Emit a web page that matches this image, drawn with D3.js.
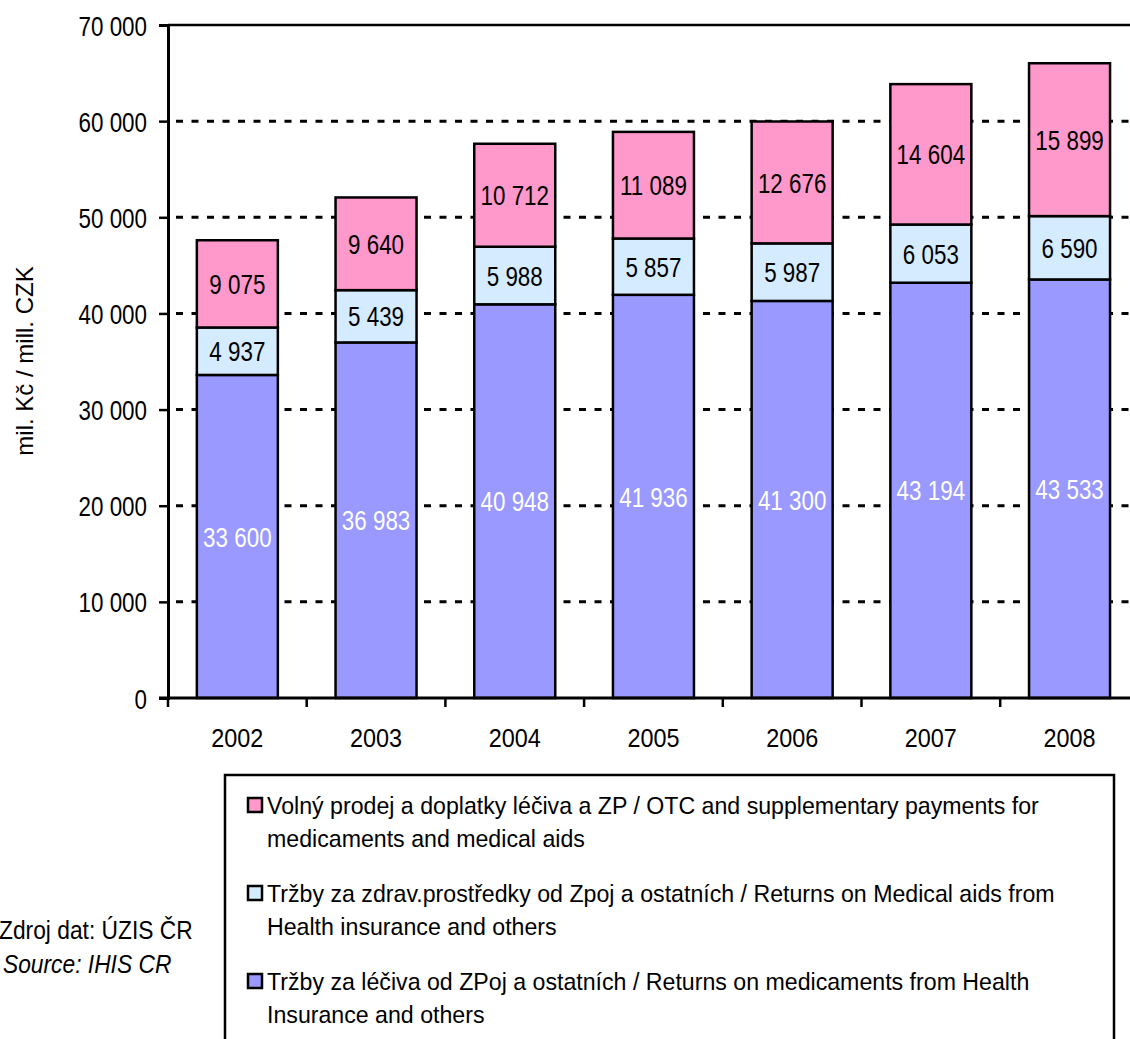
<!DOCTYPE html>
<html>
<head>
<meta charset="utf-8">
<script src="https://cdn.jsdelivr.net/npm/d3@7"></script>
<style>
  body { margin: 0; background: #fff; }
  text { font-family: "Liberation Sans", Arial, sans-serif; }
</style>
</head>
<body>
<div id="chart"></div>
<script>
// data
var years = ["2002", "2003", "2004", "2005", "2006", "2007", "2008"];
var medicaments = [33600, 36983, 40948, 41936, 41300, 43194, 43533];
var medicalAids = [4937, 5439, 5988, 5857, 5987, 6053, 6590];
var otcPayments = [9075, 9640, 10712, 11089, 12676, 14604, 15899];
var yTicks = [0, 10000, 20000, 30000, 40000, 50000, 60000, 70000];

var seriesNames = [
  ["Tržby za léčiva od ZPoj a ostatních / Returns on medicaments from Health", "Insurance and others"],
  ["Tržby za zdrav.prostředky od Zpoj a ostatních  / Returns on Medical aids from", "Health insurance and others"],
  ["Volný prodej a doplatky léčiva a ZP / OTC and supplementary payments for", "medicaments and medical aids"]
];
var seriesColors = ["#9999FF", "#D5EBFF", "#FF99CC"];
var labelColors = ["#ffffff", "#000000", "#000000"];

var svgWidth = 1130;
var svgHeight = 1039;

var svg = d3.select("#chart")
  .append("svg")
  .attr("width", svgWidth)
  .attr("height", svgHeight);

var x0 = 168, yTop = 25, yBottom = 698;

var xScale = d3.scaleBand()
  .domain(years)
  .range([x0, x0 + 7 * 138.7])
  .paddingInner(0.416)
  .paddingOuter(0.208);

var yScale = d3.scaleLinear()
  .domain([0, 70000])
  .range([yBottom, yTop]);

var fmt = function(v) { return d3.format(",")(v).replace(/,/g, " "); };

// narrow the font horizontally (the original uses a condensed face)
function squeeze(sel, sx) {
  sel.each(function() {
    var t = d3.select(this);
    var x = +t.attr("x") || 0, y = +t.attr("y") || 0;
    var rot = t.attr("data-rot") ? " rotate(" + t.attr("data-rot") + ")" : "";
    t.attr("transform", `translate(${x},${y})${rot} scale(${sx},1)`)
      .attr("x", 0).attr("y", 0);
  });
}

// stack the three series
var rows = years.map(function(y, i) {
  return { year: y, s0: medicaments[i], s1: medicalAids[i], s2: otcPayments[i] };
});
var stack = d3.stack().keys(["s0", "s1", "s2"]);
var stacked = stack(rows);

// gridlines
svg.append("g")
  .selectAll("line")
  .data(yTicks.filter(function(d) { return d > 0 && d < 70000; }))
  .enter()
  .append("line")
  .attr("x1", x0 + 8)
  .attr("x2", svgWidth)
  .attr("y1", d => yScale(d))
  .attr("y2", d => yScale(d))
  .attr("stroke", "#000")
  .attr("stroke-width", 3)
  .attr("stroke-dasharray", "7,8.5");

// top border of plot area
svg.append("line")
  .attr("x1", x0)
  .attr("x2", svgWidth)
  .attr("y1", yScale(70000))
  .attr("y2", yScale(70000))
  .attr("stroke", "#000")
  .attr("stroke-width", 2.5);

// bars
var layers = svg.append("g")
  .selectAll("g")
  .data(stacked)
  .enter()
  .append("g")
  .attr("fill", (d, i) => seriesColors[i]);

layers.selectAll("rect")
  .data(d => d)
  .enter()
  .append("rect")
  .attr("x", d => xScale(d.data.year))
  .attr("y", d => yScale(d[1]))
  .attr("width", xScale.bandwidth())
  .attr("height", d => yScale(d[0]) - yScale(d[1]))
  .attr("stroke", "#000")
  .attr("stroke-width", 2.5);

// segment labels
stacked.forEach(function(layer, i) {
  var lab = svg.append("g")
    .selectAll("text")
    .data(layer)
    .enter()
    .append("text")
    .attr("x", d => xScale(d.data.year) + xScale.bandwidth() / 2)
    .attr("y", d => yScale((d[0] + d[1]) / 2))
    .attr("dy", "0.36em")
    .attr("text-anchor", "middle")
    .attr("font-size", 28)
    .attr("fill", labelColors[i])
    .text(d => fmt(d[1] - d[0]));
  squeeze(lab, 0.8);
});

// y axis
var leftAxis = d3.axisLeft(yScale)
  .tickValues(yTicks)
  .tickSize(9)
  .tickPadding(12)
  .tickFormat(fmt);

var yAxis = svg.append("g")
  .attr("transform", `translate(${x0}, 0)`)
  .call(leftAxis);
yAxis.select(".domain").attr("stroke-width", 3);
yAxis.selectAll(".tick line").attr("stroke-width", 2.5);
yAxis.selectAll("text")
  .attr("font-size", 28)
  .attr("font-family", null)
  .attr("dy", "0.36em")
  .attr("fill", "#000");
squeeze(yAxis.selectAll("text"), 0.8);

// x axis: ticks at the category boundaries
var bottomAxis = d3.axisBottom(xScale).tickSize(0).tickPadding(31);
var xAxis = svg.append("g")
  .attr("transform", `translate(0, ${yBottom})`)
  .call(bottomAxis);
xAxis.select(".domain").remove();
xAxis.selectAll("text")
  .attr("font-size", 26)
  .attr("font-family", null)
  .attr("fill", "#000");
squeeze(xAxis.selectAll("text"), 0.9);

svg.append("line")
  .attr("x1", x0 - 9)
  .attr("x2", svgWidth)
  .attr("y1", yBottom)
  .attr("y2", yBottom)
  .attr("stroke", "#000")
  .attr("stroke-width", 3);

svg.append("g")
  .selectAll("line")
  .data(d3.range(years.length + 1))
  .enter()
  .append("line")
  .attr("x1", i => x0 + i * xScale.step())
  .attr("x2", i => x0 + i * xScale.step())
  .attr("y1", yBottom)
  .attr("y2", yBottom + 9)
  .attr("stroke", "#000")
  .attr("stroke-width", 2.5);

// y axis title
var yTitle = svg.append("text")
  .attr("x", 33)
  .attr("y", 361)
  .attr("data-rot", -90)
  .attr("text-anchor", "middle")
  .attr("font-size", 24)
  .text("mil. Kč / mill. CZK");
squeeze(yTitle, 1);

// legend
var legend = svg.append("g");
legend.append("rect")
  .attr("x", 225)
  .attr("y", 775)
  .attr("width", 889)
  .attr("height", 300)
  .attr("fill", "none")
  .attr("stroke", "#000")
  .attr("stroke-width", 2.5);

var legendOrder = [2, 1, 0];
var legendTop = [805, 893, 981];
legendOrder.forEach(function(s, k) {
  legend.append("rect")
    .attr("x", 248)
    .attr("y", legendTop[k] - 7)
    .attr("width", 14)
    .attr("height", 14)
    .attr("fill", seriesColors[s])
    .attr("stroke", "#000")
    .attr("stroke-width", 2.5);
  seriesNames[s].forEach(function(line, j) {
    var t = legend.append("text")
      .attr("x", 267)
      .attr("y", legendTop[k] + 9 + j * 33)
      .attr("font-size", 24)
      .text(line);
    squeeze(t, 0.965);
  });
});

// source note
var src1 = svg.append("text")
  .attr("x", -1)
  .attr("y", 939)
  .attr("font-size", 26.5)
  .text("Zdroj dat: ÚZIS ČR");
squeeze(src1, 0.86);
var src2 = svg.append("text")
  .attr("x", 3)
  .attr("y", 973)
  .attr("font-size", 26.5)
  .attr("font-style", "italic")
  .text("Source: IHIS CR");
squeeze(src2, 0.86);
</script>
</body>
</html>
